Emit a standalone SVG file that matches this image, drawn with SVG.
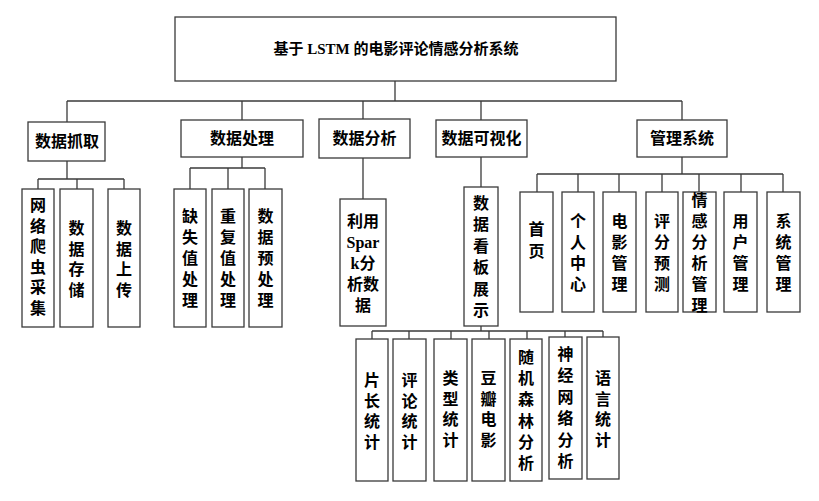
<svg xmlns="http://www.w3.org/2000/svg" width="819" height="501" viewBox="0 0 819 501">
<style>
rect{fill:#fff;stroke:#3a3a3a;stroke-width:1.3}
#connectors line{stroke:#3a3a3a;stroke-width:1.3}
text{font-family:"Liberation Serif","Noto Sans CJK SC",serif;font-weight:bold;fill:#000;text-anchor:middle}
.t1{font-size:15px}
.t2{font-size:16px}
.t3{font-size:16px}
</style>
<rect x="0" y="0" width="819" height="501" style="fill:#fff;stroke:none"/>
<g id="connectors">
<line x1="395" y1="81" x2="395" y2="101"/>
<line x1="67" y1="101" x2="682" y2="101"/>
<line x1="67" y1="101" x2="67" y2="122"/>
<line x1="242" y1="101" x2="242" y2="120"/>
<line x1="363" y1="101" x2="363" y2="119"/>
<line x1="481" y1="101" x2="481" y2="120"/>
<line x1="682" y1="101" x2="682" y2="120"/>
<!-- 数据抓取 -->
<line x1="67" y1="161" x2="67" y2="179"/>
<line x1="38" y1="179" x2="124" y2="179"/>
<line x1="38" y1="179" x2="38" y2="189"/>
<line x1="77" y1="179" x2="77" y2="189"/>
<line x1="124" y1="179" x2="124" y2="189"/>
<!-- 数据处理 -->
<line x1="242" y1="157" x2="242" y2="168"/>
<line x1="190" y1="168" x2="265" y2="168"/>
<line x1="190" y1="168" x2="190" y2="189"/>
<line x1="228" y1="168" x2="228" y2="189"/>
<line x1="265" y1="168" x2="265" y2="189"/>
<!-- 数据分析 -->
<line x1="363" y1="158" x2="363" y2="199"/>
<!-- 数据可视化 -->
<line x1="481" y1="157" x2="481" y2="187"/>
<line x1="481" y1="326" x2="481" y2="331"/>
<line x1="372" y1="331" x2="603" y2="331"/>
<line x1="372" y1="331" x2="372" y2="339"/>
<line x1="409" y1="331" x2="409" y2="339"/>
<line x1="451" y1="331" x2="451" y2="339"/>
<line x1="489" y1="331" x2="489" y2="339"/>
<line x1="527" y1="331" x2="527" y2="339"/>
<line x1="565" y1="331" x2="565" y2="337"/>
<line x1="603" y1="331" x2="603" y2="337"/>
<!-- 管理系统 -->
<line x1="682" y1="157" x2="682" y2="174"/>
<line x1="537" y1="174" x2="783" y2="174"/>
<line x1="537" y1="174" x2="537" y2="192"/>
<line x1="578" y1="174" x2="578" y2="192"/>
<line x1="619" y1="174" x2="619" y2="192"/>
<line x1="662" y1="174" x2="662" y2="192"/>
<line x1="699" y1="174" x2="699" y2="192"/>
<line x1="741" y1="174" x2="741" y2="192"/>
<line x1="783" y1="174" x2="783" y2="192"/>
</g>

<g id="root"><rect x="175" y="17" width="441" height="64"/><text class="t1" x="396" y="54">基于 LSTM 的电影评论情感分析系统</text></g>

<g id="n-zhuaqu"><rect x="28" y="122" width="77" height="39"/><text class="t2" x="67" y="147">数据抓取</text></g>
<g id="n-chuli"><rect x="181" y="120" width="122" height="37"/><text class="t2" x="242" y="144">数据处理</text></g>
<g id="n-fenxi"><rect x="319" y="119" width="91" height="39"/><text class="t2" x="364.5" y="144">数据分析</text></g>
<g id="n-keshihua"><rect x="436" y="120" width="91" height="37"/><text class="t2" x="481.5" y="144">数据可视化</text></g>
<g id="n-guanli"><rect x="637" y="120" width="90" height="37"/><text class="t2" x="682" y="144">管理系统</text></g>

<!-- 数据抓取 children -->
<g id="n-pachong"><rect x="22" y="189" width="32" height="138"/><text class="t3" x="38" y="211"><tspan x="38">网</tspan><tspan x="38" dy="20.6">络</tspan><tspan x="38" dy="20.6">爬</tspan><tspan x="38" dy="20.6">虫</tspan><tspan x="38" dy="20.6">采</tspan><tspan x="38" dy="20.6">集</tspan></text></g>
<g id="n-cunchu"><rect x="60" y="189" width="33" height="138"/><text class="t3" x="76.5" y="234"><tspan x="76.5">数</tspan><tspan x="76.5" dy="20.5">据</tspan><tspan x="76.5" dy="20.5">存</tspan><tspan x="76.5" dy="20.5">储</tspan></text></g>
<g id="n-shangchuan"><rect x="108" y="189" width="32" height="138"/><text class="t3" x="124" y="234"><tspan x="124">数</tspan><tspan x="124" dy="20.5">据</tspan><tspan x="124" dy="20.5">上</tspan><tspan x="124" dy="20.5">传</tspan></text></g>

<!-- 数据处理 children -->
<g id="n-queshi"><rect x="174" y="189" width="32" height="138"/><text class="t3" x="190" y="222"><tspan x="190">缺</tspan><tspan x="190" dy="21">失</tspan><tspan x="190" dy="21">值</tspan><tspan x="190" dy="21">处</tspan><tspan x="190" dy="21">理</tspan></text></g>
<g id="n-chongfu"><rect x="212" y="189" width="32" height="138"/><text class="t3" x="228" y="222"><tspan x="228">重</tspan><tspan x="228" dy="21">复</tspan><tspan x="228" dy="21">值</tspan><tspan x="228" dy="21">处</tspan><tspan x="228" dy="21">理</tspan></text></g>
<g id="n-yuchuli"><rect x="249" y="189" width="33" height="138"/><text class="t3" x="265.5" y="222"><tspan x="265.5">数</tspan><tspan x="265.5" dy="21">据</tspan><tspan x="265.5" dy="21">预</tspan><tspan x="265.5" dy="21">处</tspan><tspan x="265.5" dy="21">理</tspan></text></g>

<!-- 数据分析 child -->
<g id="n-spark"><rect x="340" y="199" width="46" height="127"/><text class="t3" x="363" y="227"><tspan x="363">利用</tspan><tspan x="363" dy="21">Spar</tspan><tspan x="363" dy="21">k分</tspan><tspan x="363" dy="21">析数</tspan><tspan x="363" dy="21">据</tspan></text></g>

<!-- 数据可视化 child -->
<g id="n-kanban"><rect x="464" y="187" width="34" height="139"/><text class="t3" x="481" y="209"><tspan x="481">数</tspan><tspan x="481" dy="21.4">据</tspan><tspan x="481" dy="21.4">看</tspan><tspan x="481" dy="21.4">板</tspan><tspan x="481" dy="21.4">展</tspan><tspan x="481" dy="21.4">示</tspan></text></g>

<!-- 数据看板展示 children -->
<g id="n-pianchang"><rect x="356" y="339" width="32" height="142"/><text class="t3" x="372" y="386"><tspan x="372">片</tspan><tspan x="372" dy="20.5">长</tspan><tspan x="372" dy="20.5">统</tspan><tspan x="372" dy="20.5">计</tspan></text></g>
<g id="n-pinglun"><rect x="393" y="339" width="33" height="142"/><text class="t3" x="409.5" y="386"><tspan x="409.5">评</tspan><tspan x="409.5" dy="20.5">论</tspan><tspan x="409.5" dy="20.5">统</tspan><tspan x="409.5" dy="20.5">计</tspan></text></g>
<g id="n-leixing"><rect x="434" y="339" width="33" height="142"/><text class="t3" x="450.5" y="384"><tspan x="450.5">类</tspan><tspan x="450.5" dy="20.5">型</tspan><tspan x="450.5" dy="20.5">统</tspan><tspan x="450.5" dy="20.5">计</tspan></text></g>
<g id="n-douban"><rect x="472" y="339" width="33" height="142"/><text class="t3" x="488.5" y="384"><tspan x="488.5">豆</tspan><tspan x="488.5" dy="20.5">瓣</tspan><tspan x="488.5" dy="20.5">电</tspan><tspan x="488.5" dy="20.5">影</tspan></text></g>
<g id="n-senlin"><rect x="510" y="339" width="32" height="142"/><text class="t3" x="526" y="363"><tspan x="526">随</tspan><tspan x="526" dy="21.2">机</tspan><tspan x="526" dy="21.2">森</tspan><tspan x="526" dy="21.2">林</tspan><tspan x="526" dy="21.2">分</tspan><tspan x="526" dy="21.2">析</tspan></text></g>
<g id="n-shenjing"><rect x="549" y="337" width="33" height="142"/><text class="t3" x="565.5" y="360"><tspan x="565.5">神</tspan><tspan x="565.5" dy="21.4">经</tspan><tspan x="565.5" dy="21.4">网</tspan><tspan x="565.5" dy="21.4">络</tspan><tspan x="565.5" dy="21.4">分</tspan><tspan x="565.5" dy="21.4">析</tspan></text></g>
<g id="n-yuyan"><rect x="587" y="337" width="32" height="142"/><text class="t3" x="603" y="384"><tspan x="603">语</tspan><tspan x="603" dy="20.5">言</tspan><tspan x="603" dy="20.5">统</tspan><tspan x="603" dy="20.5">计</tspan></text></g>

<!-- 管理系统 children -->
<g id="n-shouye"><rect x="520" y="192" width="33" height="120"/><text class="t3" x="536.5" y="235"><tspan x="536.5">首</tspan><tspan x="536.5" dy="22">页</tspan></text></g>
<g id="n-geren"><rect x="562" y="192" width="32" height="120"/><text class="t3" x="578" y="227"><tspan x="578">个</tspan><tspan x="578" dy="21">人</tspan><tspan x="578" dy="21">中</tspan><tspan x="578" dy="21">心</tspan></text></g>
<g id="n-dianying"><rect x="603" y="192" width="33" height="120"/><text class="t3" x="619.5" y="227"><tspan x="619.5">电</tspan><tspan x="619.5" dy="21">影</tspan><tspan x="619.5" dy="21">管</tspan><tspan x="619.5" dy="21">理</tspan></text></g>
<g id="n-pingfen"><rect x="646" y="192" width="32" height="120"/><text class="t3" x="662" y="227"><tspan x="662">评</tspan><tspan x="662" dy="21">分</tspan><tspan x="662" dy="21">预</tspan><tspan x="662" dy="21">测</tspan></text></g>
<g id="n-qinggan"><rect x="683" y="192" width="33" height="120"/><text class="t3" x="699.5" y="205.5"><tspan x="699.5">情</tspan><tspan x="699.5" dy="21">感</tspan><tspan x="699.5" dy="21">分</tspan><tspan x="699.5" dy="21">析</tspan><tspan x="699.5" dy="21">管</tspan><tspan x="699.5" dy="21">理</tspan></text></g>
<g id="n-yonghu"><rect x="724" y="192" width="33" height="120"/><text class="t3" x="740.5" y="227"><tspan x="740.5">用</tspan><tspan x="740.5" dy="21">户</tspan><tspan x="740.5" dy="21">管</tspan><tspan x="740.5" dy="21">理</tspan></text></g>
<g id="n-xitong"><rect x="767" y="192" width="33" height="120"/><text class="t3" x="783.5" y="227"><tspan x="783.5">系</tspan><tspan x="783.5" dy="21">统</tspan><tspan x="783.5" dy="21">管</tspan><tspan x="783.5" dy="21">理</tspan></text></g>
</svg>
